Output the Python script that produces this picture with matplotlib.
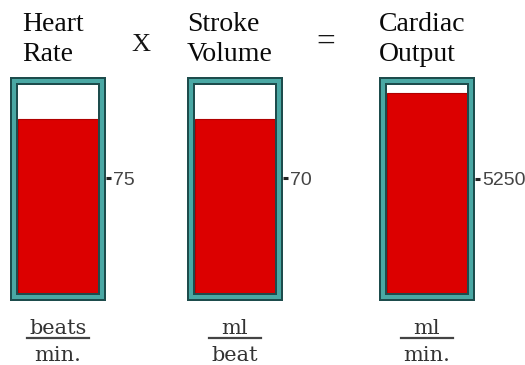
import matplotlib
matplotlib.use("Agg")
import matplotlib.pyplot as plt
from matplotlib.patches import Rectangle
from matplotlib.lines import Line2D

# Quantities shown in the three gauges
titles = ["Heart\nRate", "Stroke\nVolume", "Cardiac\nOutput"]
values = [75, 70, 5250]            # marked value on each gauge
fill_levels = [114, 106, 9170]     # height of the red column
gauge_max = [136, 127, 9550]       # top of each gauge scale
unit_top = ["beats", "ml", "ml"]
unit_bottom = ["min.", "beat", "min."]
operators = ["X", "="]

W, H, DPI = 525, 365, 100
PT = 72 / DPI  # points per pixel
fig = plt.figure(figsize=(W / DPI, H / DPI), dpi=DPI)
fig.patch.set_facecolor("white")


def fx(px):
    return px / W


def fy(py):
    return 1 - py / H


# Layout in pixels (x from left, y from top)
outer_left = [10, 187, 379]
outer_w = 96
outer_top, outer_bottom = 77, 301
frame = 8
title_x = [22, 187, 379]

DARK = "#1d4c4c"
TEAL = "#4aa8a4"
RED = "#dc0000"

for i in range(3):
    x0 = outer_left[i]
    # gauge axes covering the white interior
    ax = fig.add_axes([fx(x0 + frame), fy(outer_bottom - frame),
                       fx(outer_w - 2 * frame), (outer_bottom - outer_top - 2 * frame) / H])
    ax.set_xlim(0, 1)
    ax.set_ylim(0, gauge_max[i])
    ax.bar([0.5], [fill_levels[i]], width=1.0, color=RED, edgecolor="#b00000", linewidth=0.8)
    for s in ax.spines.values():
        s.set_visible(False)
    # the value tick sits just outside the frame
    ax.spines["right"].set_position(("outward", frame * PT))
    ax.set_xticks([])
    ax.yaxis.tick_right()
    ax.set_yticks([values[i]])
    ax.set_yticklabels([str(values[i])])
    ax.tick_params(axis="y", length=5 * PT, width=2.2, color="#222222",
                   pad=1.5, labelsize=14, labelcolor="#444444")
    for lab in ax.get_yticklabels():
        lab.set_family("Liberation Sans")

    # frame: dark outer line, teal band, dark inner line
    layers = [(0, DARK), (2, TEAL), (6, DARK)]
    for inset, col in layers:
        fig.patches.append(Rectangle(
            (fx(x0 + inset), fy(outer_bottom - inset)),
            fx(outer_w - 2 * inset), (outer_bottom - outer_top - 2 * inset) / H,
            transform=fig.transFigure, facecolor=col, edgecolor="none", zorder=1))
    ax.set_zorder(2)
    ax.patch.set_facecolor("white")

    # title
    fig.text(fx(title_x[i]), fy(12), titles[i], ha="left", va="top",
             family="Liberation Serif", fontsize=20, color="#0a0a0a",
             linespacing=1.24)

    # unit fraction
    cx = x0 + outer_w / 2
    fig.text(fx(cx), fy(334), unit_top[i], ha="center", va="baseline",
             family="DejaVu Serif", fontsize=15, color="#333333")
    fig.text(fx(cx), fy(361), unit_bottom[i], ha="center", va="baseline",
             family="DejaVu Serif", fontsize=15, color="#333333")
    half = 31 if i == 0 else 26
    fig.add_artist(Line2D([fx(cx - half), fx(cx + half)], [fy(338), fy(338)],
                          transform=fig.transFigure, color="#444444", linewidth=1.6))

# operators between the titles
fig.text(fx(141), fy(51), operators[0], ha="center", va="baseline",
         family="Liberation Serif", fontsize=19, color="#151515")
fig.text(fx(326), fy(51), operators[1], ha="center", va="baseline",
         family="Liberation Serif", fontsize=24, color="#151515")

fig.savefig("out.png", dpi=DPI, facecolor="white")
